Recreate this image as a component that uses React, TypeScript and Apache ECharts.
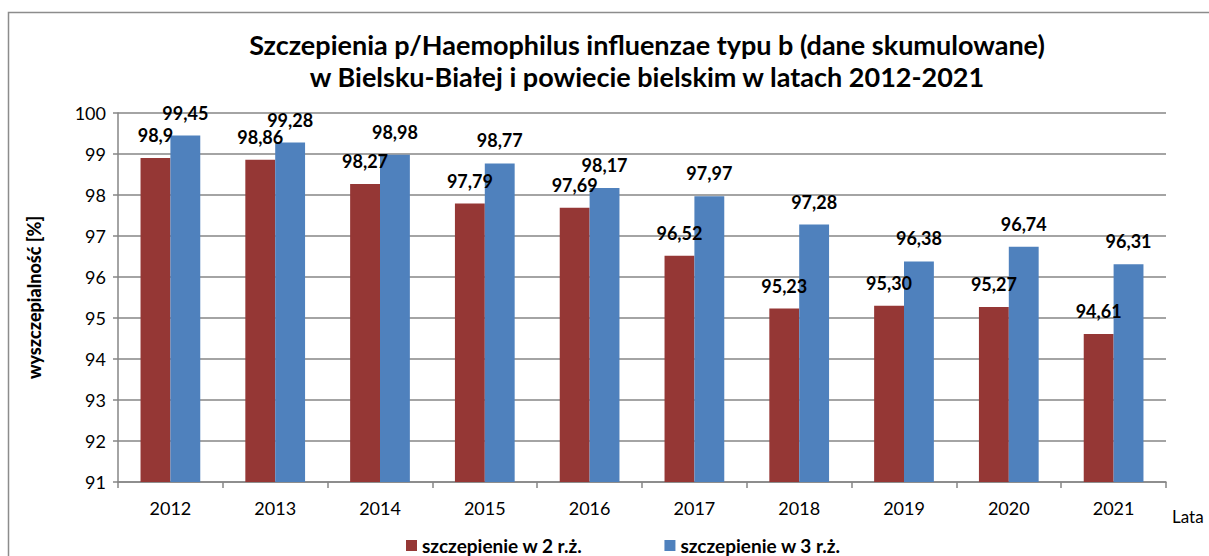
import React, { useEffect, useRef } from "react";
import * as echarts from "echarts";

const years = ["2012", "2013", "2014", "2015", "2016", "2017", "2018", "2019", "2020", "2021"];
const dose2 = [98.9, 98.86, 98.27, 97.79, 97.69, 96.52, 95.23, 95.3, 95.27, 94.61];
const dose3 = [99.45, 99.28, 98.98, 98.77, 98.17, 97.97, 97.28, 96.38, 96.74, 96.31];
const dose2Labels = ["98,9", "98,86", "98,27", "97,79", "97,69", "96,52", "95,23", "95,30", "95,27", "94,61"];
const dose3Labels = ["99,45", "99,28", "98,98", "98,77", "98,17", "97,97", "97,28", "96,38", "96,74", "96,31"];
const seriesNames = ["szczepienie w 2 r.ż.", "szczepienie w 3 r.ż."];
const titleText = "Szczepienia p/Haemophilus influenzae typu b (dane skumulowane)\nw Bielsku-Białej i powiecie bielskim w latach 2012-2021";

const FONT = "Lato";

export default function App() {
  const ref = useRef<HTMLDivElement>(null);
  useEffect(() => {
    document.body.style.margin = "0";
    const chart = echarts.init(ref.current!, null, { renderer: "svg" });
    const labelStyle = (labels: string[]) => ({
      show: true,
      position: "top" as const,
      distance: 14,
      fontFamily: FONT,
      fontSize: 18,
      fontWeight: "bold" as const,
      color: "#000",
      formatter: (p: any) => labels[p.dataIndex],
    });
    chart.setOption({
      animation: false,
      backgroundColor: "#fff",
      textStyle: { fontFamily: FONT },
      title: {
        text: titleText,
        left: 642,
        top: 23,
        padding: 5,
        textAlign: "center",
        textStyle: {
          fontFamily: FONT,
          fontSize: 27,
          fontWeight: "bold",
          color: "#000",
          lineHeight: 32,
        },
      },
      graphic: [
        {
          type: "rect",
          shape: { x: 8.5, y: 12.5, width: 1205, height: 600 },
          style: { fill: "none", stroke: "#8c8c8c", lineWidth: 1.5 },
          silent: true,
        },
      ],
      legend: {
        left: 406,
        top: 536,
        padding: 0,
        itemWidth: 11,
        itemHeight: 11,
        itemGap: 82,
        icon: "rect",
        textStyle: { fontFamily: FONT, fontSize: 19, fontWeight: "bold", color: "#000", lineHeight: 19 },
        data: seriesNames,
      },
      grid: { left: 118, right: 43, top: 113, bottom: 74, containLabel: false },
      xAxis: {
        type: "category",
        data: years,
        name: "Lata",
        nameLocation: "end",
        nameGap: 6,
        nameTextStyle: {
          fontFamily: FONT,
          fontSize: 17,
          color: "#000",
          verticalAlign: "top",
          padding: [26, 0, 0, 0],
        },
        axisLine: { show: true, lineStyle: { color: "#868686", width: 1.5 } },
        axisTick: { show: true, length: 6, lineStyle: { color: "#868686", width: 1.5 } },
        axisLabel: { fontFamily: FONT, fontSize: 18, color: "#000", margin: 17 },
      },
      yAxis: {
        type: "value",
        min: 91,
        max: 100,
        interval: 1,
        name: "wyszczepialność [%]",
        nameLocation: "middle",
        nameGap: 75,
        nameRotate: 90,
        nameTextStyle: { fontFamily: FONT, fontSize: 18, fontWeight: 900, color: "#000" },
        axisLine: { show: true, lineStyle: { color: "#868686", width: 1.5 } },
        axisTick: { show: true, length: 5, lineStyle: { color: "#868686", width: 1.5 } },
        axisLabel: { fontFamily: FONT, fontSize: 18, color: "#000", margin: 12 },
        splitLine: { show: true, lineStyle: { color: "#868686", width: 1.5 } },
      },
      series: [
        {
          name: seriesNames[0],
          type: "bar",
          data: dose2,
          barGap: "0%",
          barCategoryGap: "43%",
          itemStyle: { color: "#953735" },
          label: labelStyle(dose2Labels),
        },
        {
          name: seriesNames[1],
          type: "bar",
          data: dose3,
          barGap: "0%",
          barCategoryGap: "43%",
          itemStyle: { color: "#4F81BD" },
          label: labelStyle(dose3Labels),
        },
      ],
    });
    return () => chart.dispose();
  }, []);
  return <div ref={ref} style={{ width: 1209, height: 556 }} />;
}
